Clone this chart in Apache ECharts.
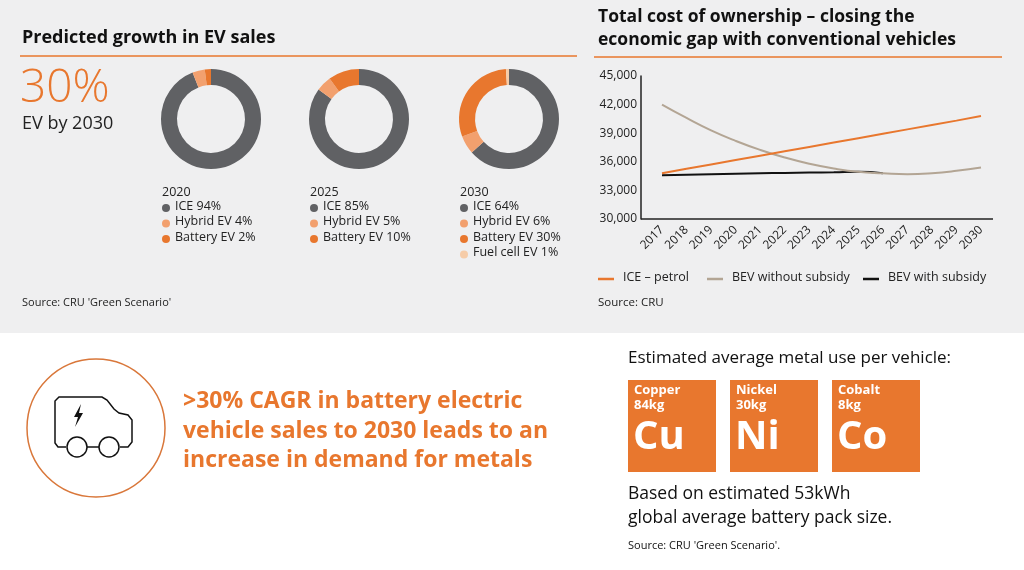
<!DOCTYPE html>
<html><head><meta charset="utf-8">
<script src="https://cdn.jsdelivr.net/npm/echarts@6/dist/echarts.min.js"></script>
<style>html,body{margin:0;padding:0;background:#fff}#c{width:1024px;height:570px}</style>
</head><body><div id="c"></div>
<script>
const FONT = '"Open Sans", sans-serif';
const ORANGE = '#e8772e';
const years = ['2017','2018','2019','2020','2021','2022','2023','2024','2025','2026','2027','2028','2029','2030'];
const icePetrol = [34800,35260,35720,36180,36640,37100,37560,38020,38480,38940,39400,39860,40320,40800];
const bevNoSub = [42000,40600,39300,38200,37250,36450,35800,35300,34950,34800,34700,34800,35050,35400];
const bevSub = [34600,34650,34700,34750,34800,34830,34870,34900,34950,34800,null,null,null,null];
const donutYears = ['2020','2025','2030'];
const segNames = ['ICE','Hybrid EV','Battery EV','Fuel cell EV'];
const segColors = ['#606164','#f2a06e','#e8772e','#f6cca8'];
const share2020 = [94,4,2,0];
const share2025 = [85,5,10,0];
const share2030 = [64,6,30,1];
const shares = [share2020, share2025, share2030];
const metals = [['Copper','84kg','Cu'],['Nickel','30kg','Ni'],['Cobalt','8kg','Co']];

const chart = echarts.init(document.getElementById('c'));
const cx = [211,359,509];
const series = [];
const g = [
  {type:'rect',shape:{x:0,y:0,width:1024,height:333},style:{fill:'#efeff0'},z:-10},
  {type:'text',x:22,y:29,style:{text:'Predicted growth in EV sales',font:'bold 18px '+FONT,fill:'#111'}},
  {type:'line',shape:{x1:20,y1:56,x2:577,y2:56},style:{stroke:ORANGE,lineWidth:1.5}},
  {type:'text',x:20,y:66,style:{text:'30%',font:'300 46px '+FONT,fill:ORANGE}},
  {type:'text',x:22,y:115,style:{text:'EV by 2030',font:'18px '+FONT,fill:'#222'}},
  {type:'text',x:22,y:297,style:{text:"Source: CRU 'Green Scenario'",font:'11px '+FONT,fill:'#222'}},
  {type:'text',x:598,y:6,style:{text:'Total cost of ownership – closing the\neconomic gap with conventional vehicles',font:'bold 17.5px '+FONT,fill:'#111',lineHeight:23}},
  {type:'line',shape:{x1:594,y1:57,x2:1002,y2:57},style:{stroke:ORANGE,lineWidth:1.5}},
  {type:'line',shape:{x1:641,y1:219,x2:993,y2:219},style:{stroke:'#222',lineWidth:1.5}},
  {type:'text',x:598,y:297,style:{text:'Source: CRU',font:'11.5px '+FONT,fill:'#222'}},
  {type:'circle',shape:{cx:96,cy:428,r:69},style:{fill:'none',stroke:'#d9773a',lineWidth:1.5}},
  {type:'polyline',shape:{points:[[66,447],[58,447],[55,443],[55,401],[59,397],[102,397],[107,400],[114,409],[119,413],[128,415],[132,420],[132,442],[128,447],[120,447]]},style:{fill:'none',stroke:'#111',lineWidth:1.5}},
  {type:'line',shape:{x1:87,y1:447,x2:99,y2:447},style:{stroke:'#111',lineWidth:1.5}},
  {type:'circle',shape:{cx:77,cy:447,r:10},style:{fill:'#fff',stroke:'#111',lineWidth:1.5}},
  {type:'circle',shape:{cx:109,cy:447,r:10},style:{fill:'#fff',stroke:'#111',lineWidth:1.5}},
  {type:'polygon',shape:{points:[[81,404],[74,417],[78,417],[75,427],[83,413],[79,413]]},style:{fill:'#111'}},
  {type:'text',x:183,y:387,style:{text:'>30% CAGR in battery electric\nvehicle sales to 2030 leads to an\nincrease in demand for metals',font:'bold 23px '+FONT,fill:ORANGE,lineHeight:29.5}},
  {type:'text',x:628,y:350,style:{text:'Estimated average metal use per vehicle:',font:'17px '+FONT,fill:'#111'}},
  {type:'text',x:628,y:482,style:{text:'Based on estimated 53kWh\nglobal average battery pack size.',font:'17.5px '+FONT,fill:'#111',lineHeight:24}},
  {type:'text',x:628,y:540,style:{text:"Source: CRU 'Green Scenario'.",font:'11px '+FONT,fill:'#111'}}
];
const tx = [628,730,832];
metals.forEach((m,i)=>{
  g.push({type:'rect',shape:{x:tx[i],y:380,width:88,height:92},style:{fill:ORANGE}});
  g.push({type:'text',x:tx[i]+6,y:383,style:{text:m[0]+'\n'+m[1],font:'bold 13px '+FONT,fill:'#fff',lineHeight:15}});
  g.push({type:'text',x:tx[i]+5,y:418,style:{text:m[2],font:'bold 40px '+FONT,fill:'#fff'}});
});
shares.forEach((s,i)=>{
  const lx = cx[i]-49;
  const data = [];
  s.forEach((v,k)=>{ if(v>0) data.push({name:segNames[k],value:v,itemStyle:{color:segColors[k]}}); });
  series.push({type:'pie',center:[cx[i],119],radius:[34,50],silent:true,label:{show:false},startAngle:90,clockwise:true,data:data,animation:false});
  g.push({type:'text',x:lx,y:186,style:{text:donutYears[i],font:'12.5px '+FONT,fill:'#222'}});
  let row=0;
  s.forEach((v,k)=>{ if(v>0){
    const y=208+row*15.5;
    g.push({type:'circle',shape:{cx:lx+4,cy:y,r:4},style:{fill:segColors[k]}});
    g.push({type:'text',x:lx+13,y:y-8.5,style:{text:segNames[k]+' '+v+'%',font:'12.5px '+FONT,fill:'#222'}});
    row++;
  }});
});
const leg=[['ICE – petrol','#e8772e',598],['BEV without subsidy','#b3a594',707],['BEV with subsidy','#111',863]];
leg.forEach(l=>{
  g.push({type:'line',shape:{x1:l[2],y1:279,x2:l[2]+16,y2:279},style:{stroke:l[1],lineWidth:2.5}});
  g.push({type:'text',x:l[2]+25,y:271,style:{text:l[0],font:'12.5px '+FONT,fill:'#222'}});
});
series.push(
  {type:'line',name:'BEV with subsidy',data:bevSub,smooth:true,showSymbol:false,lineStyle:{color:'#111',width:2},z:3},
  {type:'line',name:'BEV without subsidy',data:bevNoSub,smooth:true,showSymbol:false,lineStyle:{color:'#b3a594',width:2},z:4},
  {type:'line',name:'ICE – petrol',data:icePetrol,showSymbol:false,lineStyle:{color:'#e8772e',width:2},z:5}
);
chart.setOption({
  animation:false,
  textStyle:{fontFamily:FONT},
  grid:{left:662,right:43,top:76,bottom:351},
  xAxis:{type:'category',data:years,boundaryGap:false,axisLine:{show:false},axisTick:{show:false},
    axisLabel:{rotate:45,fontSize:12,color:'#222',margin:9,interval:0}},
  yAxis:{type:'value',min:30000,max:45000,interval:3000,offset:21,
    axisLine:{show:true,lineStyle:{color:'#222',width:1.5}},axisTick:{show:false},splitLine:{show:false},
    axisLabel:{fontSize:12,color:'#222',margin:4,formatter:v=>v.toLocaleString('en-US')}},
  series:series,
  graphic:g
});
</script></body></html>
